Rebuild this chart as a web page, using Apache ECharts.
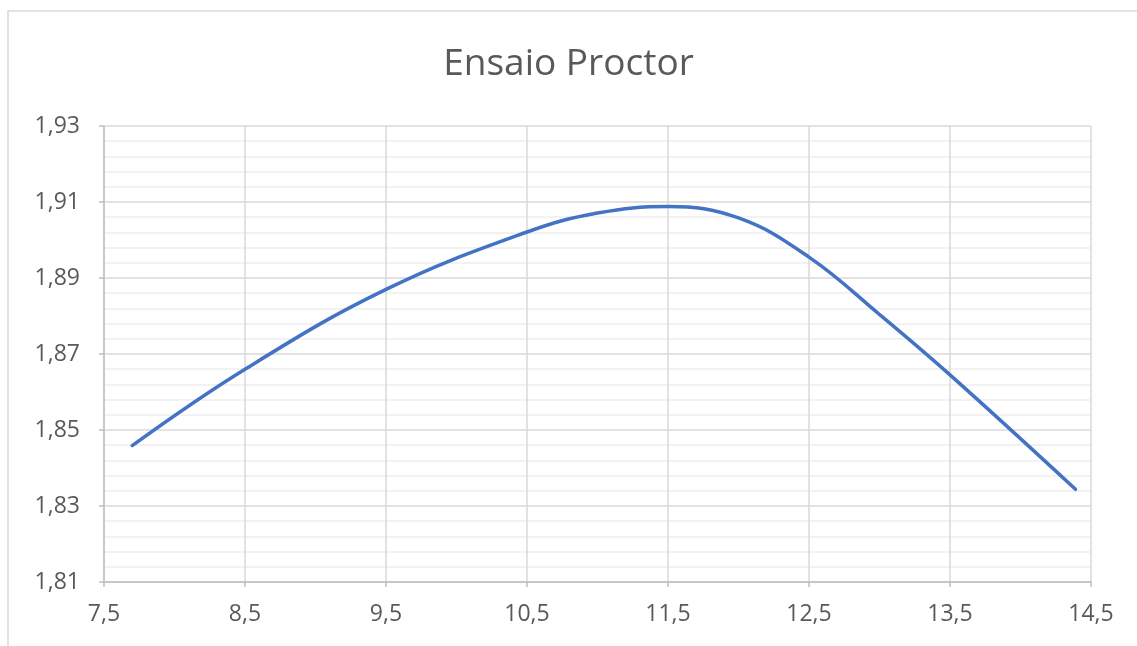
<!DOCTYPE html>
<html>
<head>
<meta charset="utf-8">
<script src="https://cdn.jsdelivr.net/npm/echarts@6/dist/echarts.min.js"></script>
<style>html,body{margin:0;padding:0;background:#fff;}#c{width:1137px;height:646px;}</style>
</head>
<body>
<div id="c"></div>
<script>
const titleText = "Ensaio Proctor";
const moisture = [7.70, 8.5, 9.5, 10.5, 11.0, 11.5, 12.0, 12.5, 13.0, 13.5, 14.39];
const density  = [1.8459, 1.8660, 1.8870, 1.9021, 1.9071, 1.9088, 1.9058, 1.8955, 1.8804, 1.8645, 1.8344];
const xRange = [7.5, 14.5];
const yRange = [1.81, 1.93];

const chart = echarts.init(document.getElementById('c'), null, {renderer: 'canvas'});
const fmt = (v, d) => v.toFixed(d).replace('.', ',');
const gridColor = '#d9d9d9';
chart.setOption({
  animation: false,
  backgroundColor: '#fff',
  graphic: [{
    type: 'rect', shape: {x: 8, y: 11, width: 1140, height: 650},
    style: {fill: 'none', stroke: '#d9d9d9', lineWidth: 1.5}, silent: true, z: -10
  }],
  title: {
    text: titleText, left: 'center', top: 41,
    textStyle: {fontFamily: 'Open Sans', fontSize: 37, fontWeight: 'normal', color: '#595959'}
  },
  grid: {left: 104, right: 46, top: 126, bottom: 64, containLabel: false},
  xAxis: {
    type: 'value', min: xRange[0], max: xRange[1], interval: 1,
    axisLine: {show: true, lineStyle: {color: '#bfbfbf', width: 1.5}},
    axisTick: {show: true, length: 5, lineStyle: {color: '#bfbfbf', width: 1.5}},
    axisLabel: {margin: 21, fontFamily: 'Open Sans', fontSize: 23, color: '#595959', formatter: v => fmt(v, 1)},
    splitLine: {show: true, lineStyle: {color: gridColor, width: 1.5}}
  },
  yAxis: {
    type: 'value', min: yRange[0], max: yRange[1], interval: 0.02,
    axisLine: {show: true, lineStyle: {color: '#bfbfbf', width: 1.5}},
    axisTick: {show: true, length: 5, lineStyle: {color: '#bfbfbf', width: 1.5}},
    axisLabel: {margin: 24, fontFamily: 'Open Sans', fontSize: 23, color: '#595959', formatter: v => fmt(v, 2)},
    splitLine: {show: true, lineStyle: {color: gridColor, width: 1.5}},
    minorTick: {show: false, splitNumber: 5},
    minorSplitLine: {show: true, lineStyle: {color: '#eeeeee', width: 1.5}}
  },
  series: [{
    type: 'line', data: moisture.map((x, i) => [x, density[i]]),
    smooth: 0.4, showSymbol: false, symbol: 'none',
    lineStyle: {color: '#4472C4', width: 3.5, cap: 'round', join: 'round'}
  }]
});
</script>
</body>
</html>
